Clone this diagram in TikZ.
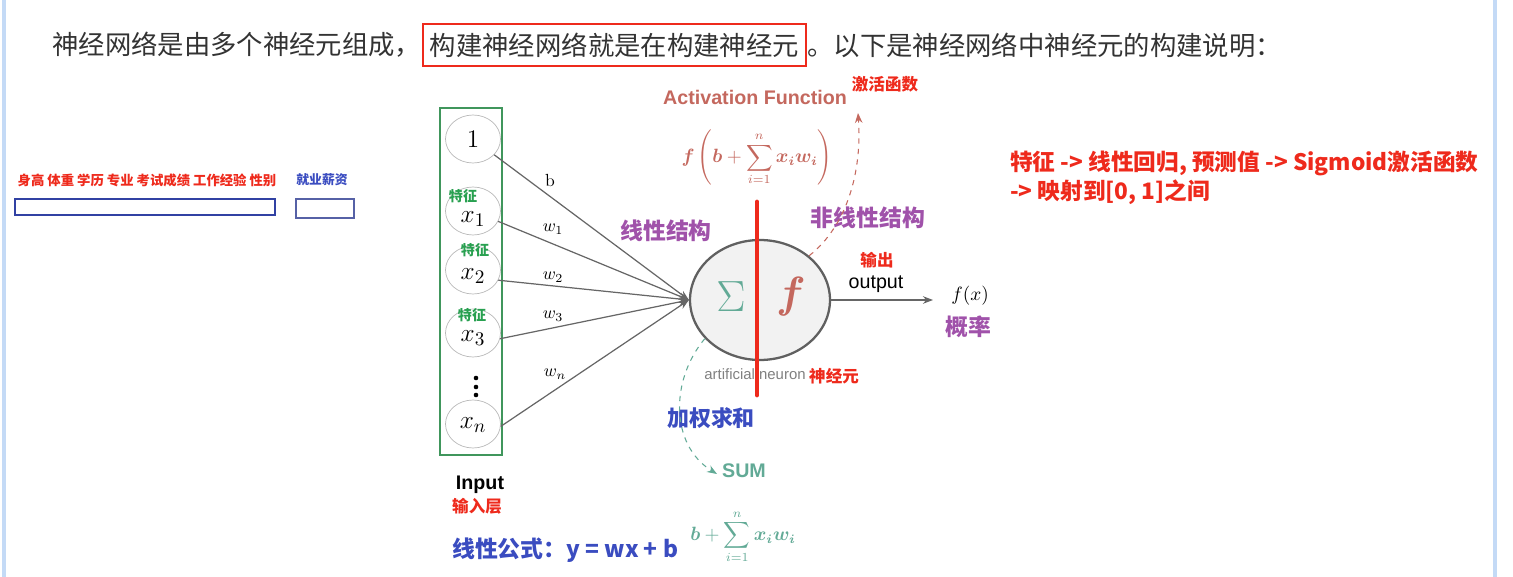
\documentclass[tikz,border=0pt]{standalone}
\usepackage{amsmath,amssymb}
\usepackage{fontspec}
\usetikzlibrary{positioning,arrows.meta,shapes.geometric}
\newfontfamily\cjk{Noto Sans CJK SC}
\newfontfamily\helv{Liberation Sans}
\definecolor{hired}{RGB}{238,42,28}
\definecolor{hipurple}{RGB}{160,82,170}
\definecolor{hiblue}{RGB}{58,76,192}
\definecolor{boxgreen}{RGB}{64,150,92}
\definecolor{featgreen}{RGB}{40,160,80}
\definecolor{sumteal}{RGB}{98,170,150}
\definecolor{actred}{RGB}{196,104,94}
\definecolor{edgeblue}{RGB}{196,218,246}
\newcommand{\fsz}[1]{\fontsize{#1}{#1}\selectfont}

\begin{document}
\begin{tikzpicture}[x=0.02cm,y=-0.02cm,>={Stealth[length=2mm]},
  inp/.style={ellipse,draw=gray!55,minimum width=1.1cm,minimum height=0.96cm,inner sep=0pt},
  feat/.style={text=featgreen,font=\cjk\bfseries\fsz{8},inner sep=0pt},
  wlab/.style={font=\fsz{10},inner sep=1pt},
  note/.style={text=hired,font=\cjk\bfseries\fsz{9.4}},
  struct/.style={text=hipurple,font=\cjk\bfseries\fsz{13}},
  wire/.style={draw=gray!80!black,line width=0.7pt,->}]
\useasboundingbox (0,0) rectangle (1513,577);
% page edges
\draw[edgeblue,line width=2.5pt] (4,0) -- (4,577);
\draw[edgeblue,line width=2.5pt] (1495,0) -- (1495,577);

% heading line
\node[anchor=west,inner sep=0pt,text=black!80,font=\cjk\fsz{15}] (intro) at (52,45) {神经网络是由多个神经元组成，};
\node[right=0pt of intro,draw=hired,line width=1.4pt,inner xsep=4pt,minimum height=0.84cm,text=black!80,font=\cjk\fsz{15}] (keybox) {构建神经网络就是在构建神经元};
\node[right=0pt of keybox,inner sep=0pt,text=black!80,font=\cjk\fsz{15}] (rest) {。以下是神经网络中神经元的构建说明：};

% sample row
\node[text=hired,font=\cjk\bfseries\fsz{7.6}] (attrs) at (147,180) {身高 体重 学历 专业 考试成绩 工作经验 性别};
\node[text=hiblue,font=\cjk\bfseries\fsz{7.3}] (salary) at (322,180) {就业薪资};
\draw[hiblue!85!black,line width=0.9pt] (15,199) rectangle (275,215);
\draw[hiblue!60!gray,line width=0.7pt] (296,199) rectangle (354,218);

% input layer
\node[draw=boxgreen,line width=1.2pt,minimum width=1.24cm,minimum height=6.94cm,inner sep=0pt] (inbox) at (471,281.5) {};
\node[inp] (one) at (473,139) {\fsz{14}$1$};
\node[inp] (x1) at (473,211) {};
\node[inp] (x2) at (473,270) {};
\node[inp] (x3) at (473,333) {};
\node[inp] (xn) at (473,424) {};
\node[feat] (f1) at (463,196) {特征};
\node[feat] (f2) at (475,250) {特征};
\node[feat] (f3) at (472,315) {特征};
\node[font=\fsz{15}] (lx1) at (473,219) {$x_1$};
\node[font=\fsz{15}] (lx2) at (473,276) {$x_2$};
\node[font=\fsz{15}] (lx3) at (473,338) {$x_3$};
\node[font=\fsz{15}] (lxn) at (473,425) {$x_n$};
\foreach \dy in {378,387,395}
  \fill (476,\dy) circle (2.3);
\node[font=\helv\bfseries\fsz{11.2}] (input) at (480,485) {Input};
\node[note] (inlayer) at (477,506) {输入层};

% neuron
\node[ellipse,draw=gray!75!black,fill=gray!10,line width=1.3pt,minimum width=2.8cm,minimum height=2.4cm] (neuron) at (760,300) {};
\node[text=sumteal,font=\fsz{26}] (sigma) at (731,297) {$\Sigma$};
\node[text=actred,font=\fsz{26}] (fsym) at (791,297) {$\boldsymbol{f}$};
\node[text=gray,font=\helv\fsz{8.5}] (artif) at (755,374) {artificial neuron};
\node[note] (cell) at (834,376) {神经元};

% weighted inputs
\draw[wire] (one) -- (neuron.west);
\draw[wire] (x1) -- (neuron.west);
\draw[wire] (x2.-22) -- (neuron.west);
\draw[wire] (x3.-12) -- (neuron.west);
\draw[wire] (xn.-5) -- (neuron.west);
\node[wlab] (wb) at (550,181) {b};
\node[wlab] (w1) at (553,229) {$w_1$};
\node[wlab] (w2) at (553,277) {$w_2$};
\node[wlab] (w3) at (553,316) {$w_3$};
\node[wlab] (wn) at (555,374) {$w_n$};
\node[struct] (linear) at (666,231) {线性结构};

% activation part
\node[text=actred,font=\helv\bfseries\fsz{11.2},inner sep=1pt] (actname) at (755,97) {Activation Function};
\node[note] (actcn) at (885,84) {激活函数};
\node[text=actred,font=\fsz{10.5},inner sep=0pt] (actform) at (757,158) {$\displaystyle \boldsymbol{f}\left(\boldsymbol{b}+\sum_{i=1}^{n}\boldsymbol{x_iw_i}\right)$};
\node[struct] (nonlinear) at (868,218) {非线性结构};
\coordinate (acttip) at (858,113);
\draw[actred,dashed,line width=0.6pt,->] (neuron.42) .. controls (848,225) and (862,170) .. (acttip);

% output
\coordinate (outtip) at (933,300);
\draw[gray!80!black,line width=1.1pt,->] (neuron.east) -- (outtip);
\node[note] (outcn) at (877,260) {输出};
\node[font=\helv\fsz{11.2}] (outen) at (876,284) {output};
\node[font=\fsz{11}] (fx) at (970,296) {$f(x)$};
\node[struct] (prob) at (968,327) {概率};

% weighted sum
\node[text=hiblue,font=\cjk\bfseries\fsz{12.5}] (wsum) at (711,418) {加权求和};
\node[text=sumteal,font=\helv\bfseries\fsz{11.2}] (sum) at (744,471) {SUM};
\coordinate (sumtip) at (717,474);
\draw[sumteal,dashed,line width=0.6pt,->] (neuron.215) .. controls (670,380) and (670,445) .. (sumtip);

% divider
\draw[hired,line width=2.8pt,line cap=round] (757,202) -- (757,395);

% formulas and notes
\node[anchor=west,text=hiblue,font=\cjk\bfseries\fsz{13}] (linform) at (446,550) {线性公式：y = wx + b};
\node[anchor=west,text=sumteal,font=\fsz{10.5},inner sep=0pt] (sumform) at (690,537) {$\displaystyle \boldsymbol{b}+\sum_{i=1}^{n}\boldsymbol{x_iw_i}$};
\node[anchor=north west,align=left,text=hired,font=\cjk\bfseries\fontsize{12.9}{16.4}\selectfont] (sigmoid) at (1004,145) {特征 -> 线性回归, 预测值 -> Sigmoid激活函数\\-> 映射到[0, 1]之间};
\end{tikzpicture}
\end{document}
